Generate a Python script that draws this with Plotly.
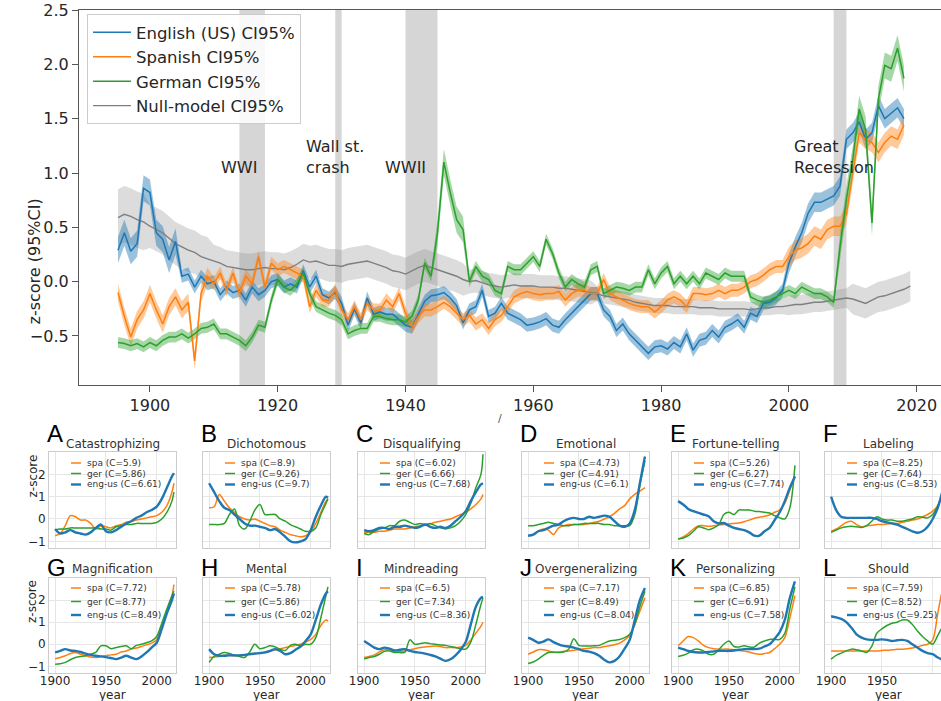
import plotly.graph_objects as go

W, H = 941, 701

# ---------------- main chart data ----------------
years_main = list(range(1895, 2019))
null_years = list(range(1895, 2020))

eng_main = [
    0.29, 0.45, 0.28, 0.35, 0.86,
    0.82, 0.45, 0.39, 0.20, 0.37, 0.05, 0.07, -0.05, 0.05, -0.02,
    0.00, -0.12, -0.05, -0.10, -0.08, -0.17, -0.05, -0.12, -0.08, 0.00,
    0.02, -0.05, -0.02, -0.05, 0.10, -0.05, 0.05, -0.12, -0.15, -0.10,
    -0.20, -0.40, -0.25, -0.38, -0.15, -0.30, -0.28, -0.30, -0.30, -0.35,
    -0.40, -0.42, -0.30, -0.18, -0.13, -0.12, -0.10, -0.15, -0.22, -0.38,
    -0.26, -0.23, -0.08, -0.32, -0.29, -0.20, -0.29, -0.32, -0.35, -0.40,
    -0.39, -0.37, -0.34, -0.40, -0.42, -0.35, -0.29, -0.23, -0.17, -0.11,
    -0.11, -0.26, -0.32, -0.45, -0.39, -0.48, -0.54, -0.60, -0.66, -0.60,
    -0.59, -0.62, -0.56, -0.60, -0.48, -0.63, -0.54, -0.52, -0.45, -0.51,
    -0.42, -0.39, -0.35, -0.42, -0.29, -0.32, -0.20, -0.19, -0.15, -0.08,
    0.17, 0.32, 0.45, 0.63, 0.73, 0.73, 0.76, 0.79, 0.88, 1.31,
    1.37, 1.47, 1.31, 1.37, 1.62, 1.50, 1.55, 1.60, 1.50,
]
spa_main = [
    -0.10, -0.32, -0.51, -0.35, -0.26,
    -0.11, -0.26, -0.39, -0.23, -0.14, -0.26, -0.19, -0.73, -0.11, 0.05,
    -0.02, 0.08, -0.08, 0.08, -0.11, 0.05, -0.02, 0.23, -0.05, 0.17,
    0.11, 0.14, 0.11, 0.08, 0.05, -0.23, -0.08, -0.17, -0.17, -0.08,
    -0.26, -0.35, -0.23, -0.35, -0.20, -0.26, -0.26, -0.17, -0.23, -0.11,
    -0.29, -0.42, -0.32, -0.26, -0.26, -0.23, -0.19, -0.23, -0.29, -0.35,
    -0.31, -0.39, -0.35, -0.43, -0.35, -0.31, -0.23, -0.14, -0.11, -0.09,
    -0.11, -0.12, -0.11, -0.11, -0.09, -0.17, -0.11, -0.08, -0.08, -0.11,
    -0.11, 0.02, -0.11, -0.14, -0.17, -0.20, -0.22, -0.23, -0.23, -0.28,
    -0.23, -0.17, -0.14, -0.17, -0.23, -0.11, -0.11, -0.12, -0.11, -0.08,
    -0.11, -0.08, -0.08, -0.05, 0.00, 0.02, 0.06, 0.11, 0.14, 0.14,
    0.23, 0.29, 0.31, 0.35, 0.42, 0.39, 0.48, 0.51, 0.51, 0.62,
    1.00, 1.37, 1.31, 1.28, 1.19, 1.28, 1.34, 1.31, 1.44,
]
ger_main = [
    -0.56, -0.57, -0.59, -0.57, -0.60,
    -0.56, -0.59, -0.54, -0.51, -0.51, -0.48, -0.52, -0.48, -0.43, -0.42,
    -0.39, -0.48, -0.48, -0.51, -0.54, -0.59, -0.51, -0.40, -0.42, -0.17,
    0.02, -0.05, -0.08, -0.02, 0.08, -0.11, -0.23, -0.26, -0.29, -0.31,
    -0.35, -0.48, -0.45, -0.43, -0.43, -0.32, -0.32, -0.34, -0.35, -0.35,
    -0.37, -0.32, -0.17, 0.17, 0.05, 0.45, 1.10, 0.82, 0.57, 0.48,
    0.00, 0.14, 0.05, 0.02, -0.08, -0.11, 0.14, 0.11, 0.11, 0.17,
    0.23, 0.14, 0.39, 0.26, 0.08, -0.05, 0.02, -0.02, -0.05, 0.11,
    0.14, -0.11, -0.08, -0.05, -0.06, -0.08, -0.05, -0.05, 0.11, -0.02,
    0.08, 0.14, -0.02, 0.05, -0.02, 0.05, -0.02, 0.08, 0.05, 0.02,
    0.08, 0.05, 0.05, 0.05, -0.14, -0.17, -0.19, -0.17, -0.14, -0.11,
    -0.08, -0.11, -0.05, -0.08, -0.11, -0.11, -0.14, -0.19, 0.32, 0.76,
    1.13, 1.59, 1.40, 0.54, 1.68, 1.99, 1.96, 2.15, 1.87,
]
null_main = [
    0.59, 0.62, 0.60, 0.57, 0.55, 0.51, 0.48, 0.45, 0.40, 0.35,
    0.32, 0.29, 0.27, 0.23, 0.21, 0.19, 0.17, 0.14, 0.13, 0.12,
    0.11, 0.11, 0.12, 0.13, 0.12, 0.12, 0.11, 0.13, 0.16, 0.20,
    0.18, 0.19, 0.17, 0.15, 0.15, 0.14, 0.16, 0.17, 0.18, 0.19,
    0.17, 0.15, 0.13, 0.10, 0.09, 0.07, 0.10, 0.13, 0.15, 0.13,
    0.11, 0.09, 0.07, 0.05, 0.02, 0.00, 0.01, -0.01, -0.03, -0.04,
    -0.05, -0.04, -0.03, -0.04, -0.04, -0.04, -0.05, -0.05, -0.05, -0.06,
    -0.06, -0.07, -0.08, -0.09, -0.10, -0.11, -0.13, -0.14, -0.15, -0.16,
    -0.17, -0.19, -0.20, -0.21, -0.22, -0.22, -0.22, -0.23, -0.23, -0.23,
    -0.23, -0.24, -0.24, -0.24, -0.25, -0.25, -0.25, -0.25, -0.25, -0.26,
    -0.25, -0.24, -0.24, -0.23, -0.23, -0.22, -0.21, -0.21, -0.20, -0.19,
    -0.19, -0.18, -0.17, -0.16, -0.15, -0.16, -0.18, -0.20, -0.17, -0.14,
    -0.13, -0.11, -0.09, -0.07, -0.04,
]
# 95% CI half-widths
eng_ci = [0.12] * 10 + [0.06] * 95 + [0.09] * 19
spa_ci = [0.08] * 15 + [0.06] * 90 + [0.09] * 19
ger_ci = [0.05] * 50 + [0.12] * 5 + [0.05] * 58 + [0.12] * 11
null_ci = [0.26] * 5 + [0.20] * 10 + [0.15] * 40 + [0.11] * 20 + [0.07] * 30 + [0.09] * 10 + [0.14] * 10

event_labels = ["WWI", "Wall st.<br>crash", "WWII", "Great<br>Recession"]
event_start = [1914, 1929, 1940, 2007]
event_end = [1918, 1930, 1945, 2009]

for arr in (eng_main, spa_main, ger_main, eng_ci, spa_ci, ger_ci):
    assert len(arr) == len(years_main), len(arr)
assert len(null_main) == len(null_years) == len(null_ci)

# ---------------- small multiples data ----------------
years_left = list(range(1900, 2016, 5)) + [2017]   # panels A-C, G-I
years_right = list(range(1900, 2016, 5))           # panels D-F, J-L

A_spa = [-0.75, -0.65, -0.3, 0.15, 0.1, -0.05, -0.05, -0.2, -0.45, -0.3, -0.35, -0.4, -0.3, -0.25, -0.15, -0.1, -0.05, 0.0, 0.05, 0.1, 0.15, 0.3, 0.6, 1.2, 1.6]
A_ger = [-0.5, -0.45, -0.45, -0.4, -0.4, -0.4, -0.4, -0.4, -0.4, -0.45, -0.45, -0.5, -0.35, -0.3, -0.25, -0.25, -0.2, -0.2, -0.2, -0.2, -0.15, 0.0, 0.3, 0.8, 1.2]
A_eng = [-0.45, -0.65, -0.6, -0.5, -0.6, -0.65, -0.7, -0.6, -0.4, -0.25, -0.55, -0.6, -0.5, -0.35, -0.2, -0.1, 0.05, 0.15, 0.3, 0.4, 0.55, 0.9, 1.4, 1.9, 2.05]

B_spa = [0.5, 0.55, 1.1, 0.8, 0.5, 0.3, 0.1, 0.0, -0.05, 0.0, -0.1, -0.2, -0.3, -0.35, -0.5, -0.6, -0.7, -0.75, -0.8, -0.75, -0.6, -0.2, 0.3, 0.8, 0.9]
B_ger = [-0.25, -0.25, -0.25, -0.2, 0.2, 0.45, -0.3, -0.45, -0.1, 0.4, 0.65, 0.2, 0.2, 0.2, 0.0, -0.1, -0.25, -0.35, -0.45, -0.55, -0.55, -0.4, 0.2, 0.7, 0.9]
B_eng = [1.6, 1.2, 0.8, 0.5, 0.4, 0.2, 0.0, -0.2, -0.3, -0.3, -0.35, -0.4, -0.5, -0.45, -0.6, -0.8, -1.0, -1.05, -1.0, -0.9, -0.5, 0.1, 0.6, 1.0, 0.95]

C_spa = [-0.6, -0.6, -0.6, -0.55, -0.55, -0.5, -0.45, -0.45, -0.45, -0.4, -0.35, -0.3, -0.28, -0.22, -0.15, -0.1, -0.05, 0.0, 0.1, 0.2, 0.3, 0.45, 0.65, 0.9, 1.1]
C_ger = [-0.65, -0.7, -0.55, -0.45, -0.4, -0.3, -0.3, -0.1, -0.05, -0.15, -0.25, -0.2, -0.25, -0.2, -0.3, -0.4, -0.45, -0.4, -0.3, -0.1, 0.2, 0.7, 1.4, 2.0, 2.9]
C_eng = [-0.5, -0.55, -0.5, -0.4, -0.4, -0.45, -0.35, -0.35, -0.3, -0.35, -0.4, -0.35, -0.25, -0.35, -0.4, -0.35, -0.4, -0.3, -0.1, 0.1, 0.35, 0.8, 1.2, 1.55, 1.6]

D_spa = [-0.75, -0.7, -0.55, -0.45, -0.5, -0.7, -0.4, -0.3, -0.25, -0.25, -0.25, -0.25, -0.2, -0.15, -0.1, 0.0, 0.1, 0.25, 0.45, 0.6, 0.9, 1.1, 1.25, 1.4]
D_ger = [-0.3, -0.3, -0.25, -0.2, -0.15, -0.2, -0.25, -0.3, -0.3, -0.25, -0.25, -0.2, -0.2, -0.2, -0.2, -0.25, -0.25, -0.3, -0.3, -0.3, -0.3, 0.2, 1.5, 2.6]
D_eng = [-0.75, -0.7, -0.55, -0.5, -0.4, -0.3, -0.25, -0.1, 0.0, 0.05, 0.0, 0.0, 0.1, 0.05, 0.1, 0.15, 0.1, -0.1, -0.3, -0.35, -0.2, 0.4, 1.6, 2.8]

E_spa = [-0.9, -0.8, -0.65, -0.45, -0.3, -0.3, -0.33, -0.3, -0.27, -0.25, -0.22, -0.2, -0.18, -0.12, -0.05, 0.03, 0.08, 0.12, 0.18, 0.3, 0.4, 0.7, 1.3, 1.9]
E_ger = [-0.9, -0.85, -0.75, -0.55, -0.35, -0.4, -0.48, -0.4, -0.25, 0.2, 0.3, 0.2, 0.4, 0.4, 0.4, 0.35, 0.33, 0.3, 0.27, 0.15, 0.05, 0.0, 0.5, 2.4]
E_eng = [0.8, 0.65, 0.45, 0.35, 0.27, 0.2, 0.12, -0.1, -0.2, -0.18, -0.3, -0.4, -0.45, -0.5, -0.6, -0.75, -0.75, -0.55, -0.4, -0.05, 0.3, 0.8, 1.4, 1.9]

F_spa = [-0.55, -0.45, -0.3, -0.15, -0.1, -0.25, -0.35, -0.3, -0.28, -0.25, -0.25, -0.22, -0.2, -0.2, -0.15, -0.1, -0.05, 0.0, 0.1, 0.2, 0.35, 0.6, 1.1, 1.8]
F_ger = [-0.6, -0.5, -0.4, -0.35, -0.33, -0.35, -0.38, -0.3, -0.1, 0.1, 0.0, -0.05, -0.05, -0.1, -0.1, -0.05, 0.0, 0.1, 0.08, 0.05, 0.2, 0.6, 1.2, 1.8]
F_eng = [1.0, 0.4, 0.1, 0.05, 0.05, 0.05, 0.05, 0.05, 0.05, 0.0, -0.1, -0.15, -0.2, -0.25, -0.35, -0.45, -0.55, -0.62, -0.55, -0.35, 0.0, 0.5, 1.3, 2.0]

G_spa = [-0.65, -0.6, -0.52, -0.42, -0.37, -0.45, -0.52, -0.58, -0.6, -0.55, -0.52, -0.48, -0.45, -0.35, -0.3, -0.22, -0.17, -0.1, -0.02, 0.05, 0.22, 0.8, 1.5, 2.2, 2.7]
G_ger = [-0.9, -0.88, -0.82, -0.7, -0.6, -0.55, -0.52, -0.45, -0.37, -0.07, -0.07, -0.2, -0.15, -0.1, -0.07, -0.2, -0.05, 0.0, 0.07, 0.15, 0.35, 0.95, 1.6, 2.2, 2.4]
G_eng = [-0.37, -0.3, -0.22, -0.28, -0.3, -0.35, -0.42, -0.48, -0.52, -0.55, -0.58, -0.62, -0.67, -0.6, -0.52, -0.6, -0.67, -0.55, -0.37, -0.15, 0.07, 0.7, 1.4, 2.0, 2.3]

H_spa = [-0.6, -0.58, -0.55, -0.5, -0.5, -0.52, -0.5, -0.48, -0.45, -0.43, -0.4, -0.37, -0.32, -0.25, -0.2, -0.15, -0.1, -0.05, 0.0, 0.1, 0.22, 0.45, 0.85, 1.1, 1.05]
H_ger = [-0.82, -0.55, -0.45, -0.37, -0.42, -0.5, -0.55, -0.6, -0.35, 0.0, -0.2, -0.15, -0.07, -0.12, -0.22, -0.28, -0.05, 0.0, -0.07, 0.0, 0.0, 0.3, 1.2, 2.2, 2.6]
H_eng = [-0.22, -0.45, -0.52, -0.52, -0.5, -0.5, -0.5, -0.48, -0.45, -0.42, -0.4, -0.37, -0.3, -0.22, -0.3, -0.45, -0.4, -0.25, -0.1, 0.15, 0.45, 1.1, 1.8, 2.3, 2.4]

I_spa = [-0.6, -0.55, -0.48, -0.35, -0.25, -0.25, -0.35, -0.33, -0.3, -0.25, -0.2, -0.15, -0.12, -0.1, -0.08, -0.1, -0.15, -0.15, -0.15, -0.12, -0.05, 0.2, 0.5, 0.82, 1.0]
I_ger = [-0.67, -0.6, -0.55, -0.45, -0.32, -0.3, -0.37, -0.37, -0.37, 0.2, 0.0, 0.03, 0.07, 0.03, 0.0, -0.03, -0.05, -0.1, -0.15, -0.2, -0.22, 0.1, 0.9, 1.8, 2.1]
I_eng = [0.15, 0.0, -0.15, -0.22, -0.15, -0.2, -0.28, -0.25, -0.22, -0.3, -0.35, -0.38, -0.42, -0.48, -0.55, -0.65, -0.75, -0.68, -0.5, -0.25, 0.1, 0.9, 1.7, 2.1, 2.15]

J_spa = [-0.45, -0.35, -0.25, -0.25, -0.3, -0.37, -0.35, -0.32, -0.3, -0.27, -0.24, -0.2, -0.18, -0.15, -0.15, -0.1, -0.07, -0.02, 0.05, 0.2, 0.4, 0.9, 1.5, 2.1]
J_ger = [-0.87, -0.8, -0.67, -0.5, -0.37, -0.35, -0.37, -0.35, -0.22, 0.25, -0.05, -0.08, -0.08, -0.07, -0.05, 0.05, 0.15, 0.18, 0.22, 0.3, 0.45, 0.9, 1.7, 2.4]
J_eng = [0.3, 0.2, 0.07, 0.12, 0.22, 0.1, 0.0, -0.07, -0.1, -0.15, -0.22, -0.3, -0.33, -0.4, -0.52, -0.7, -0.82, -0.75, -0.55, -0.2, 0.2, 1.1, 2.0, 2.55]

K_spa = [-0.07, 0.15, 0.35, 0.3, 0.15, -0.05, -0.15, -0.2, -0.22, -0.22, -0.22, -0.25, -0.28, -0.3, -0.35, -0.42, -0.45, -0.42, -0.37, -0.2, 0.0, 0.3, 1.2, 2.2]
K_ger = [-0.55, -0.5, -0.4, -0.25, -0.22, -0.3, -0.45, -0.45, -0.25, 0.0, 0.15, -0.1, -0.12, -0.07, -0.12, -0.12, 0.05, 0.15, 0.22, 0.22, 0.22, 0.5, 1.6, 2.6]
K_eng = [-0.15, -0.22, -0.3, -0.35, -0.37, -0.37, -0.35, -0.32, -0.3, -0.3, -0.3, -0.28, -0.25, -0.22, -0.22, -0.22, -0.2, -0.1, 0.0, 0.25, 0.55, 1.1, 2.1, 2.85]

L_spa = [-0.3, -0.3, -0.3, -0.3, -0.3, -0.3, -0.3, -0.3, -0.3, -0.3, -0.28, -0.27, -0.25, -0.23, -0.22, -0.2, -0.17, -0.12, -0.05, 0.0, 0.2, 1.4, 2.5, 3.0]
L_ger = [-0.67, -0.5, -0.4, -0.3, -0.22, -0.25, -0.3, -0.37, -0.1, 0.5, 0.7, 0.85, 0.95, 1.0, 1.1, 1.1, 0.9, 0.6, 0.35, 0.15, 0.0, 0.4, 0.8, 1.0]
L_eng = [1.27, 1.22, 1.15, 1.0, 0.75, 0.45, 0.3, 0.22, 0.2, 0.2, 0.22, 0.2, 0.15, 0.18, 0.2, 0.15, 0.0, -0.15, -0.3, -0.4, -0.45, -0.6, -0.7, -0.7]

panel_letters = list("ABCDEFGHIJKL")
panel_titles = ["Catastrophizing", "Dichotomous", "Disqualifying", "Emotional",
                "Fortune-telling", "Labeling", "Magnification", "Mental",
                "Mindreading", "Overgeneralizing", "Personalizing", "Should"]
panel_cvals = [("5.9", "5.86", "6.61"), ("8.9", "9.26", "9.7"), ("6.02", "6.66", "7.68"),
               ("4.73", "4.91", "6.1"), ("5.26", "6.27", "7.74"), ("8.25", "7.64", "8.53"),
               ("7.72", "8.77", "8.49"), ("5.78", "5.86", "6.02"), ("6.5", "7.34", "8.36"),
               ("7.17", "8.49", "8.04"), ("6.85", "6.91", "7.58"), ("7.59", "8.52", "9.25")]
panel_series = [(A_spa, A_ger, A_eng), (B_spa, B_ger, B_eng), (C_spa, C_ger, C_eng),
                (D_spa, D_ger, D_eng), (E_spa, E_ger, E_eng), (F_spa, F_ger, F_eng),
                (G_spa, G_ger, G_eng), (H_spa, H_ger, H_eng), (I_spa, I_ger, I_eng),
                (J_spa, J_ger, J_eng), (K_spa, K_ger, K_eng), (L_spa, L_ger, L_eng)]
series_names = ["spa", "ger", "eng-us"]

# ---------------- styling / layout constants ----------------
BLUE, ORANGE, GREEN, GRAY = "#1f77b4", "#ff7f0e", "#2ca02c", "#7f7f7f"
TXT = "#262626"
FONT = "DejaVu Sans"


def fx(p):
    return p / W


def fy(p):
    return 1 - p / H


fig = go.Figure()


def add_band(x, y, ci, color):
    up = [v + c for v, c in zip(y, ci)]
    lo = [v - c for v, c in zip(y, ci)]
    fig.add_trace(go.Scatter(x=list(x) + list(x)[::-1], y=up + lo[::-1], fill="toself",
                             fillcolor=color, line=dict(width=0), mode="lines",
                             hoverinfo="skip", showlegend=False, xaxis="x", yaxis="y"))


add_band(null_years, null_main, null_ci, "rgba(150,150,150,0.33)")
add_band(years_main, eng_main, eng_ci, "rgba(31,119,180,0.45)")
add_band(years_main, spa_main, spa_ci, "rgba(255,127,14,0.42)")
add_band(years_main, ger_main, ger_ci, "rgba(44,160,44,0.42)")

fig.add_trace(go.Scatter(x=null_years, y=null_main, mode="lines", name="Null-model CI95%",
                         line=dict(color=GRAY, width=1.4), legendrank=4, xaxis="x", yaxis="y"))
fig.add_trace(go.Scatter(x=years_main, y=eng_main, mode="lines", name="English (US) CI95%",
                         line=dict(color=BLUE, width=1.5), legendrank=1, xaxis="x", yaxis="y"))
fig.add_trace(go.Scatter(x=years_main, y=spa_main, mode="lines", name="Spanish CI95%",
                         line=dict(color=ORANGE, width=1.5), legendrank=2, xaxis="x", yaxis="y"))
fig.add_trace(go.Scatter(x=years_main, y=ger_main, mode="lines", name="German CI95%",
                         line=dict(color=GREEN, width=1.5), legendrank=3, xaxis="x", yaxis="y"))

shapes = []
annotations = []
for lab, s, e in zip(event_labels, event_start, event_end):
    shapes.append(dict(type="rect", xref="x", yref="y domain", x0=s, x1=e, y0=0, y1=1,
                       fillcolor="#d6d6d6", line=dict(width=0), layer="below"))
    two = "<br>" in lab
    annotations.append(dict(x=s, y=1.15 if two else 1.055, xref="x", yref="y", text=lab,
                            showarrow=False, xanchor="center", yanchor="middle", align="left",
                            font=dict(size=16, color=TXT, family=FONT)))

annotations.append(dict(x=fx(22), y=fy(197), xref="paper", yref="paper", text="z-score (95%CI)",
                        textangle=-90, showarrow=False, font=dict(size=16, color=TXT, family=FONT)))
annotations.append(dict(x=fx(500), y=fy(418), xref="paper", yref="paper", text="/",
                        showarrow=False, font=dict(size=11, color="#555", family=FONT)))

layout = dict(
    width=W, height=H, margin=dict(l=0, r=0, t=0, b=0, pad=0, autoexpand=False),
    paper_bgcolor="white", plot_bgcolor="white",
    font=dict(family=FONT, color=TXT),
    showlegend=True,
    legend=dict(x=fx(87), y=fy(14), xanchor="left", yanchor="top", bordercolor="#cccccc",
                borderwidth=1, bgcolor="rgba(255,255,255,0.85)", itemwidth=38,
                font=dict(size=16.5, color=TXT, family=FONT), tracegroupgap=0),
    xaxis=dict(domain=[fx(79), 1.0], range=[1888.9, 2023.8], anchor="y", automargin=False,
               tickvals=[1900, 1920, 1940, 1960, 1980, 2000, 2020],
               showline=True, linecolor="#555", linewidth=1.2, mirror=True,
               ticks="outside", ticklen=6, tickcolor="#555", showgrid=False, zeroline=False,
               tickfont=dict(size=16, color=TXT)),
    yaxis=dict(domain=[fy(385), fy(10)], range=[-0.951, 2.5], anchor="x", automargin=False,
               tickvals=[-0.5, 0, 0.5, 1.0, 1.5, 2.0, 2.5],
               ticktext=["\u22120.5", "0.0", "0.5", "1.0", "1.5", "2.0", "2.5"],
               showline=True, linecolor="#555", linewidth=1.2, mirror=False,
               ticks="outside", ticklen=6, tickcolor="#555", showgrid=False, zeroline=False,
               tickfont=dict(size=16, color=TXT)),
)

# ---------------- small multiples ----------------
col_left = [49, 203, 358, 522, 672, 825]
row_top = [452, 578]
row_bot = [548, 673]
PW = 127
PX_PER_YEAR = PW / 125.0
legend_rows = [[463, 473.5, 484.5], [588, 601.5, 615]]
pcolors = [ORANGE, GREEN, BLUE]
pwidths = [1.5, 1.5, 2.4]

for i in range(12):
    row, col = divmod(i, 6)
    n = i + 2
    left = col_left[col]
    right = min(left + PW, W)
    x_end = 1894 + (right - left) / PX_PER_YEAR
    yrs = years_left if col < 3 else years_right
    for vals, c, w, nm in zip(panel_series[i], pcolors, pwidths, series_names):
        assert len(vals) == len(yrs), (panel_letters[i], nm, len(vals))
        fig.add_trace(go.Scatter(x=yrs, y=vals, mode="lines", showlegend=False,
                                 line=dict(color=c, width=w, shape="spline", smoothing=0.9),
                                 xaxis="x%d" % n, yaxis="y%d" % n, hoverinfo="skip"))
    layout["xaxis%d" % n] = dict(
        domain=[fx(left), fx(right)], range=[1894, x_end], anchor="y%d" % n, automargin=False,
        tickvals=[1900, 1950, 2000], showticklabels=(row == 1), ticks="",
        ticklabelstandoff=-3,
        showgrid=True, gridcolor="#e6e6e6", gridwidth=1, zeroline=False,
        showline=True, linecolor="#cccccc", linewidth=1, mirror=True,
        tickfont=dict(size=12, color=TXT))
    layout["yaxis%d" % n] = dict(
        domain=[fy(row_bot[row]), fy(row_top[row])], range=[-1.3, 3.0], anchor="x%d" % n,
        automargin=False,
        tickvals=[-1, 0, 1, 2], ticktext=["\u22121", "0", "1", "2"],
        showticklabels=(col == 0), ticks="",
        showgrid=True, gridcolor="#e6e6e6", gridwidth=1, zeroline=False,
        showline=True, linecolor="#cccccc", linewidth=1, mirror=(col != 5),
        tickfont=dict(size=12, color=TXT))

    cx = left + PW / 2
    ttl_y = 444 if row == 0 else 569
    let_y = 433 if row == 0 else 567
    annotations.append(dict(x=fx(cx), y=fy(ttl_y), xref="paper", yref="paper",
                            text=panel_titles[i], showarrow=False, xanchor="center", yanchor="middle",
                            font=dict(size=12, color="#333", family=FONT)))
    annotations.append(dict(x=fx(left - 4), y=fy(let_y), xref="paper", yref="paper",
                            text=panel_letters[i], showarrow=False, xanchor="left", yanchor="middle",
                            font=dict(size=24, color="black", family="Liberation Sans")))
    for k in range(3):
        ly = legend_rows[row][k]
        shapes.append(dict(type="line", xref="paper", yref="paper", x0=fx(left + 22), x1=fx(left + 32),
                           y0=fy(ly), y1=fy(ly), line=dict(color=pcolors[k], width=pwidths[k])))
        annotations.append(dict(x=fx(left + 36), y=fy(ly), xref="paper", yref="paper",
                                text="%s (C=%s)" % (series_names[k], panel_cvals[i][k]),
                                showarrow=False, xanchor="left", yanchor="middle",
                                font=dict(size=9, color="#333", family=FONT)))
    if row == 1:
        annotations.append(dict(x=fx(cx), y=fy(695), xref="paper", yref="paper", text="year",
                                showarrow=False, xanchor="center", yanchor="middle",
                                font=dict(size=12, color=TXT, family=FONT)))
    if col == 0:
        annotations.append(dict(x=fx(23), y=fy((row_top[row] + row_bot[row]) / 2), xref="paper",
                                yref="paper", text="z-score", textangle=-90, showarrow=False,
                                font=dict(size=12, color=TXT, family=FONT)))

layout["shapes"] = shapes
layout["annotations"] = annotations
fig.update_layout(**layout)

fig.write_html("out.html", config={"displayModeBar": False},
               post_script="document.body.style.margin='0';document.body.style.overflow='hidden';")
